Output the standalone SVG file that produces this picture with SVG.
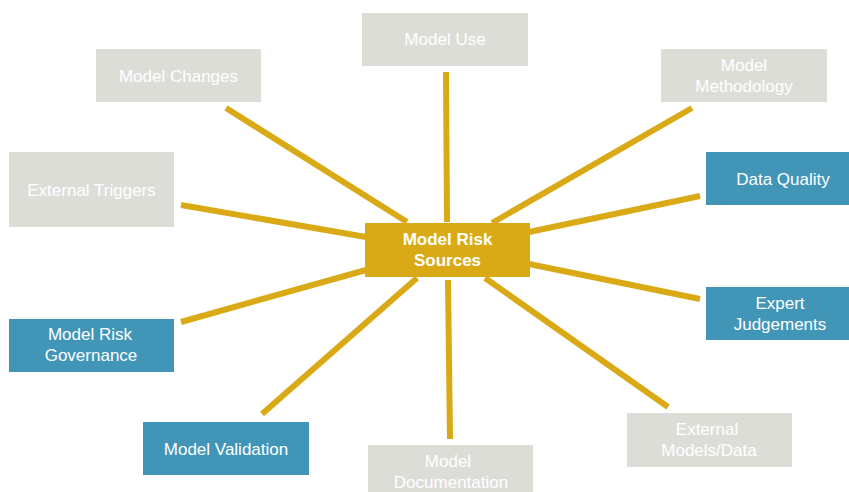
<svg xmlns="http://www.w3.org/2000/svg" width="849" height="492" viewBox="0 0 849 492">
<style>
.gray{fill:#DDDDD8}
.blue{fill:#4196B8}
.gold{fill:#D9AA16}
.t{font-family:"Liberation Sans",Arial,sans-serif;font-size:17px;fill:#FFFFFF;text-anchor:middle}
.b{font-weight:bold}
#connectors line{stroke:#D9AA16;stroke-width:6;stroke-linecap:butt}
</style>
<rect width="849" height="492" fill="#FFFFFF"/>
<g id="connectors">
<line x1="226" y1="108" x2="407" y2="222"/>
<line x1="181" y1="205" x2="366" y2="237"/>
<line x1="446" y1="72" x2="447" y2="222"/>
<line x1="692" y1="108" x2="492" y2="223"/>
<line x1="700" y1="196" x2="529" y2="232"/>
<line x1="529" y1="264" x2="700" y2="299"/>
<line x1="485" y1="278" x2="668" y2="407"/>
<line x1="448" y1="280" x2="450" y2="439"/>
<line x1="417" y1="278" x2="262" y2="414"/>
<line x1="366" y1="270" x2="181" y2="322"/>
</g>
<g id="model-use"><rect class="gray" x="362" y="13" width="166" height="53"/><text class="t" x="445" y="45">Model Use</text></g>
<g id="model-changes"><rect class="gray" x="96" y="49" width="165" height="53"/><text class="t" x="178.5" y="81.5">Model Changes</text></g>
<g id="model-methodology"><rect class="gray" x="661" y="49" width="166" height="53"/><text class="t" x="744" y="71">Model</text><text class="t" x="744" y="92">Methodology</text></g>
<g id="external-triggers"><rect class="gray" x="9" y="152" width="165" height="75"/><text class="t" x="91.5" y="195.5">External Triggers</text></g>
<g id="data-quality"><rect class="blue" x="706" y="152" width="143" height="53"/><text class="t" x="783" y="184.5">Data Quality</text></g>
<g id="model-risk-sources"><rect class="gold" x="365" y="223" width="165" height="54"/><text class="t b" x="447.5" y="245">Model Risk</text><text class="t b" x="447.5" y="266">Sources</text></g>
<g id="expert-judgements"><rect class="blue" x="706" y="287" width="143" height="53"/><text class="t" x="780" y="309">Expert</text><text class="t" x="780" y="330">Judgements</text></g>
<g id="model-risk-governance"><rect class="blue" x="9" y="319" width="165" height="53"/><text class="t" x="90" y="340">Model Risk</text><text class="t" x="91" y="361">Governance</text></g>
<g id="external-models-data"><rect class="gray" x="627" y="413" width="165" height="54"/><text class="t" x="707" y="435">External</text><text class="t" x="709" y="456">Models/Data</text></g>
<g id="model-validation"><rect class="blue" x="143" y="422" width="166" height="53"/><text class="t" x="226" y="454.5">Model Validation</text></g>
<g id="model-documentation"><rect class="gray" x="368" y="445" width="165" height="53"/><text class="t" x="448" y="467">Model</text><text class="t" x="451" y="488">Documentation</text></g>
</svg>
